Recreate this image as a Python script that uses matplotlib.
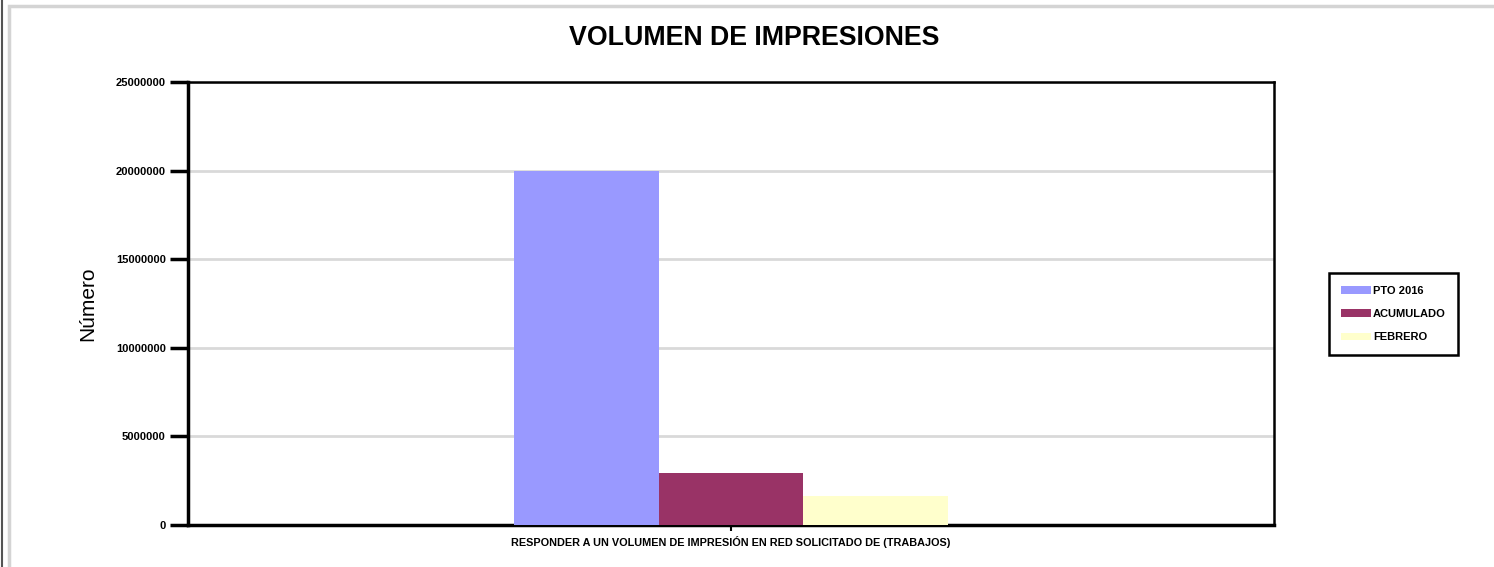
import numpy as np
import matplotlib.pyplot as plt
from matplotlib.patches import Rectangle

# data
category = "RESPONDER A UN VOLUMEN DE IMPRESIÓN EN RED SOLICITADO DE (TRABAJOS)"
series = ["PTO 2016", "ACUMULADO", "FEBRERO"]
values = [20000000, 2930000, 1650000]
colors = ["#9999ff", "#993366", "#ffffcc"]
yticks = [0, 5000000, 10000000, 15000000, 20000000, 25000000]

plt.rcParams['font.family'] = ['Liberation Sans', 'DejaVu Sans']

fig = plt.figure(figsize=(14.94, 5.67), dpi=100)
ax = fig.add_axes([188 / 1494, 1 - 525 / 567, (1274 - 188) / 1494, (525 - 82) / 567])

# outer page frame
fig.patches.append(Rectangle((9 / 1494, -0.1), 1.2, (567 - 6) / 567 + 0.1, transform=fig.transFigure,
                             fill=False, edgecolor="#d4d4d4", linewidth=2.5))
fig.patches.append(Rectangle((2 / 1494, 0), 0.0, 1, transform=fig.transFigure,
                             fill=False, edgecolor="#555555", linewidth=1.5))

width = 0.4 / 3
x = (np.arange(len(series)) - 1) * width
for xi, v, c, s in zip(x, values, colors, series):
    ax.bar(xi, v, width=width, color=c, label=s, zorder=3)

ax.set_xlim(-0.5, 0.5)
ax.set_ylim(0, 25000000)
ax.set_yticks(yticks)
ax.set_yticklabels([str(t) for t in yticks], fontsize=8, fontweight='bold')
ax.tick_params(axis='y', direction='out', length=13, width=2.5, pad=3)
ax.set_xticks([0])
ax.set_xticklabels([category], fontsize=7.8, fontweight='bold')
ax.tick_params(axis='x', direction='out', length=4, width=1.5, pad=4)
ax.grid(axis='y', color="#d9d9d9", linewidth=2, zorder=0)

for side in ['left', 'bottom']:
    ax.spines[side].set_linewidth(2.5)
for side in ['top', 'right']:
    ax.spines[side].set_linewidth(1.8)

ax.set_ylabel("Número", fontsize=15, labelpad=13)

fig.text(0.505, 1 - 38 / 567, "VOLUMEN DE IMPRESIONES", ha='center', va='center',
         fontsize=19.3, fontweight='bold')

leg = ax.legend(loc='center left', bbox_to_anchor=(1329 / 1494, 1 - 314 / 567),
                bbox_transform=fig.transFigure, fancybox=False, framealpha=1,
                edgecolor='black', prop={'size': 8, 'weight': 'bold'},
                handlelength=2.7, handleheight=0.7, handletextpad=0.15,
                labelspacing=1.2, borderpad=1.1, borderaxespad=0)
leg.get_frame().set_linewidth(1.8)

fig.savefig("out.png", dpi=100)
